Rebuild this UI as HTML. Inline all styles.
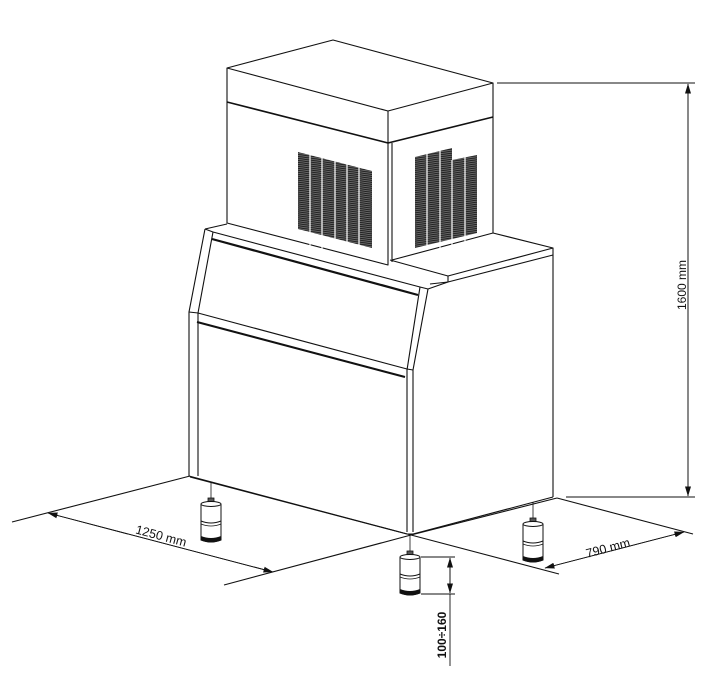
<!DOCTYPE html>
<html><head><meta charset="utf-8"><style>
html,body{margin:0;padding:0;background:#fff}
svg{display:block}
text{font-family:"Liberation Sans",Arial,sans-serif;fill:#111}
</style></head><body>
<svg width="721" height="697" viewBox="0 0 721 697" xmlns="http://www.w3.org/2000/svg">
<defs>
<pattern id="h" width="4" height="2" patternUnits="userSpaceOnUse" patternTransform="rotate(-8)">
<rect width="4" height="2" fill="#777"/><rect width="4" height="1.2" fill="#222"/>
</pattern>
<marker id="a" markerWidth="10" markerHeight="6" refX="9.5" refY="3" orient="auto" markerUnits="userSpaceOnUse">
<path d="M0,0 L10,3 L0,6 z" fill="#111"/></marker>
<g id="leg">
<line x1="0" y1="-28" x2="0" y2="-10" stroke="#111" stroke-width="0.8"/>
<rect x="-3" y="-12" width="6" height="6" fill="#555" stroke="#111" stroke-width="0.8"/>
<path d="M-10,-6 L-10,30 Q0,34 10,30 L10,-6" fill="#fff" stroke="#111" stroke-width="1"/>
<ellipse cx="0" cy="-6" rx="10" ry="2.5" fill="#fff" stroke="#111" stroke-width="1"/>
<path d="M-10,11 Q0,15 10,11" fill="none" stroke="#111" stroke-width="1"/>
<path d="M-10,14 Q0,18 10,14" fill="none" stroke="#111" stroke-width="0.8"/>
<path d="M-10,26 Q0,30 10,26 L10,30 Q0,35 -10,30 z" fill="#111"/>
</g>
</defs>
<g fill="none" stroke="#111" stroke-width="1.1" stroke-linejoin="round">
<path d="M227,68 L333,40 L493,83 L388,111 Z" fill="#fff"/>
<path d="M227,68 L227,223 L388,265 L388,111"/>
<path d="M493,83 L493,233 L392,260"/>
<line x1="392" y1="143" x2="392" y2="262"/>
<path d="M227,102 L388,143 L493,117" stroke-width="1.6"/>
<polygon points="298,152 372,171 372,248 298,229" fill="url(#h)" stroke="none"/>
<g stroke="#fff" stroke-width="1.2">
<line x1="310" y1="150" x2="310" y2="250"/><line x1="322" y1="150" x2="322" y2="250"/>
<line x1="335" y1="150" x2="335" y2="250"/><line x1="347" y1="150" x2="347" y2="250"/>
<line x1="359" y1="150" x2="359" y2="250"/></g>
<polygon points="415,157 452,148 452,160 477,155 477,233 415,248" fill="url(#h)" stroke="none"/>
<g stroke="#fff" stroke-width="1.2">
<line x1="427" y1="140" x2="427" y2="250"/><line x1="440" y1="140" x2="440" y2="250"/>
<line x1="452" y1="160" x2="452" y2="250"/><line x1="465" y1="140" x2="465" y2="250"/></g>
<path d="M493,233 L553,248 L448,276 L390,260"/>
<path d="M448,276 L448,282 L553,255"/>
<line x1="553" y1="248" x2="553" y2="497"/>
<path d="M430,284 L448,282"/>
<path d="M205,229 L227,224"/>
<path d="M205,229 L213,232 L420,287 L428,289 L448,282"/>
<path d="M205,229 L189,312 L189,476"/>
<path d="M213,232 L198,313 L198,476"/>
<path d="M428,289 L413,370 L413,532"/>
<path d="M420,287 L407,370 L407,532"/>
<path d="M212,239 L418,295" stroke-width="2.2"/>
<path d="M189,312 L198,313 L407,369 L413,370"/>
<path d="M197,322 L405,377" stroke-width="2"/>
<path d="M189,476 L407,534 L413,534 L553,497"/>
<path d="M12,522 L190,476"/>
<path d="M190,477 L411,535 L557,498"/>
<path d="M224,585 L411,535 L559,574"/>
<path d="M557,498 L693,534"/>
</g>
<use href="#leg" x="211" y="510"/>
<use href="#leg" x="410" y="563"/>
<use href="#leg" x="533" y="530"/>
<g stroke="#111" stroke-width="0.9" fill="none">
<line x1="497" y1="83" x2="695" y2="83"/>
<line x1="566" y1="497" x2="695" y2="497"/>
<line x1="688" y1="84" x2="688" y2="496" marker-end="url(#a)"/>
<line x1="688" y1="496" x2="688" y2="84" marker-end="url(#a)"/>
<line x1="48" y1="513" x2="273" y2="572" marker-end="url(#a)"/>
<line x1="273" y1="572" x2="48" y2="513" marker-end="url(#a)"/>
<line x1="545" y1="568" x2="684" y2="532" marker-end="url(#a)"/>
<line x1="684" y1="532" x2="545" y2="568" marker-end="url(#a)"/>
<line x1="421" y1="557" x2="455" y2="557"/>
<line x1="421" y1="594" x2="455" y2="594"/>
<line x1="450" y1="593" x2="450" y2="558" marker-end="url(#a)"/>
<line x1="450" y1="558" x2="450" y2="593" marker-end="url(#a)"/>
<line x1="450" y1="594" x2="450" y2="666"/>
</g>
<text x="0" y="0" font-size="12" transform="translate(686,285) rotate(-90)" text-anchor="middle">1600 mm</text>
<text x="0" y="0" font-size="12.5" transform="translate(160,540) rotate(15)" text-anchor="middle">1250 mm</text>
<text x="0" y="0" font-size="12.5" transform="translate(609,552) rotate(-15)" text-anchor="middle">790 mm</text>
<text x="0" y="0" font-size="12" font-weight="bold" transform="translate(446,635) rotate(-90)" text-anchor="middle">100÷160</text>
</svg>
</body></html>
